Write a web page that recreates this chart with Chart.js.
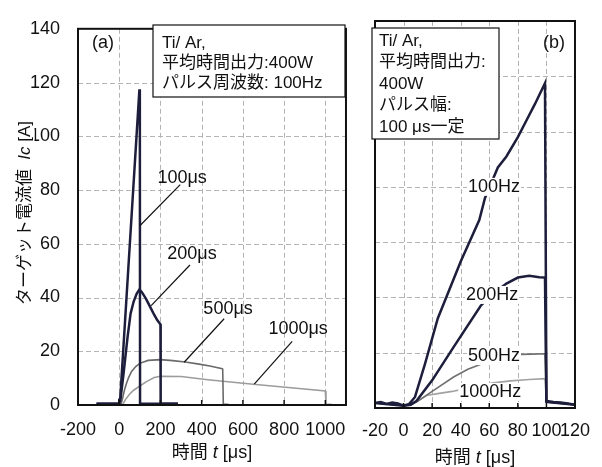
<!DOCTYPE html>
<html>
<head>
<meta charset="utf-8">
<script src="https://cdn.jsdelivr.net/npm/chart.js@4"></script>
<style>
html, body { margin: 0; padding: 0; background: #fff; }
#wrap { position: relative; width: 602px; height: 467px; overflow: hidden; }
#boxA { position: absolute; left: 0; top: 0; width: 360px; height: 467px; }
#boxB { position: absolute; left: 350px; top: 0; width: 252px; height: 467px; }
</style>
</head>
<body>
<div id="wrap">
  <div id="boxA"><canvas id="chartA"></canvas></div>
  <div id="boxB"><canvas id="chartB"></canvas></div>
</div>
<script>
// (a) pulse width series, 100 Hz: time [us] / current [A]
const tA100 = [-110, -1, 0, 5, 98, 100, 101, 285];
const iA100 = [0.5, 0.5, 2, 2.5, 117.5, 115, 0.5, 0.5];
const tA200 = [-110, -1, 0, 5, 20, 40, 55, 70, 85, 98, 110, 130, 150, 170, 185, 195, 200, 201, 285];
const iA200 = [0.5, 0.5, 1.5, 1.5, 11, 25, 34, 38.5, 41.5, 43, 42, 39.5, 36.5, 33.5, 31.5, 30.5, 30, 0.5, 0.5];
const tA500 = [-110, 8, 15, 25, 35, 46, 60, 80, 100, 140, 200, 260, 320, 380, 440, 500, 502, 505, 530];
const iA500 = [0.3, 0.3, 2, 5.5, 8, 10.3, 12.5, 14.3, 15.5, 16.6, 16.9, 16.5, 16, 15.3, 14.5, 13.5, 13.3, 0.3, 0.3];
const tA1000 = [-110, 18, 30, 50, 70, 95, 130, 170, 200, 300, 430, 650, 820, 1000, 1003, 1030];
const iA1000 = [0.3, 0.3, 2, 4, 5.5, 6.8, 8.6, 10.2, 10.7, 10.6, 9.4, 7.7, 6.5, 5.2, 0.3, 0.3];

// (b) frequency series, 100 us pulse
const tB100 = [-20, -16, -12, -8, -4, 0, 4, 8, 15, 24, 40, 53, 57, 66, 72, 80, 86, 92, 99, 100, 105, 110, 115, 120];
const iB100 = [1.8, 2.2, 1.5, 2, 1.6, 0.8, 1.5, 4, 16, 32.5, 53, 68, 76, 87, 91, 98, 104, 110, 117.5, 2.5, 2.2, 2, 1.6, 1.2];
const tB200 = [-20, 0, 5, 9, 20, 35, 54, 63, 72, 80, 88, 95, 99, 100, 120];
const iB200 = [1.8, 0.8, 1.2, 2.5, 10, 22, 37, 41.5, 45, 47.2, 47.8, 47.3, 47.2, 2.2, 1.2];
const tB500 = [-20, 0, 5, 10, 20, 35, 45, 55, 65, 75, 82, 90, 99, 100, 120];
const iB500 = [1.8, 0.8, 1.2, 2.5, 6, 11.2, 14, 16, 17.8, 18.9, 19.4, 19.5, 19.6, 2.2, 1.2];
const tB1000 = [-20, 0, 5, 10, 16, 25, 34, 45, 55, 63, 75, 88, 99, 100, 120];
const iB1000 = [1.8, 0.8, 1.2, 2.5, 4.5, 5.3, 6, 7.2, 8.3, 9.1, 9.8, 10.3, 10.6, 2.2, 1.2];

const xTicksA = [-200, 0, 200, 400, 600, 800, 1000];
const xTicksB = [-20, 0, 20, 40, 60, 80, 100, 120];
const yTicks = [0, 20, 40, 60, 80, 100, 120, 140];

const FONT = '"Liberation Sans", "Noto Sans CJK JP", sans-serif';
const INK = '#111';
const DARK = '#1d1d3c';
const GRID = '#b4b4b4';

Chart.defaults.font.family = FONT;
Chart.defaults.color = INK;

// [text, italic, white backing]
const xTitle = [['時間 ', false, false], ['t', true, false], [' [μs]', false, false]];
const yTitle = [['ターゲット電流値  ', false, false], ['Ic', true, false], [' [A]', false, true]];

function pts(xs, ys) {
    return xs.map((x, i) => ({ x: x, y: ys[i] }));
}

function series(label, xs, ys, color, width) {
    return { label: label, data: pts(xs, ys), borderColor: color, borderWidth: width, pointRadius: 0, tension: 0, fill: false };
}

function richText(ctx, parts, cx, cy, size, angle) {
    ctx.save();
    ctx.translate(cx, cy);
    ctx.rotate(angle);
    ctx.textAlign = 'left';
    ctx.textBaseline = 'middle';
    const fonts = parts.map(p => (p[1] ? 'italic ' : '') + size + 'px ' + FONT);
    let total = 0;
    const widths = parts.map((p, i) => {
        ctx.font = fonts[i];
        const w = ctx.measureText(p[0]).width;
        total += w;
        return w;
    });
    let x = -total / 2;
    parts.forEach((p, i) => {
        ctx.font = fonts[i];
        if (p[2]) {
            ctx.fillStyle = '#fff';
            ctx.fillRect(x, -size / 2 - 1, widths[i], size + 2);
        }
        ctx.fillStyle = INK;
        ctx.fillText(p[0], x, 0);
        x += widths[i];
    });
    ctx.restore();
}

const deco = {
    id: 'deco',
    beforeDatasetsDraw(chart, args, o) {
        const { ctx, chartArea: a } = chart;
        const X = v => chart.scales.x.getPixelForValue(v);
        const Y = v => chart.scales.y.getPixelForValue(v);
        ctx.save();
        ctx.strokeStyle = GRID;
        ctx.lineWidth = 1;
        ctx.setLineDash([5, 3]);
        o.ticks.forEach(v => {
            const px = Math.round(X(v)) + 0.5;
            if (px < a.left + 2 || px > a.right - 2) return;
            ctx.beginPath();
            ctx.moveTo(px, a.top);
            ctx.lineTo(px, a.bottom);
            ctx.stroke();
        });
        yTicks.forEach(v => {
            const py = Math.round(Y(v)) + 0.5;
            if (py < a.top + 2 || py > a.bottom - 2) return;
            ctx.beginPath();
            ctx.moveTo(a.left, py);
            ctx.lineTo(a.right, py);
            ctx.stroke();
        });
        ctx.restore();
    },
    afterDraw(chart, args, o) {
        const { ctx, chartArea: a } = chart;
        const X = v => chart.scales.x.getPixelForValue(v);
        const Y = v => chart.scales.y.getPixelForValue(v);
        ctx.save();
        ctx.strokeStyle = INK;

        // inward tick marks
        ctx.lineWidth = 1.5;
        o.ticks.forEach(v => {
            ctx.beginPath();
            ctx.moveTo(X(v), a.bottom);
            ctx.lineTo(X(v), a.bottom - 5);
            ctx.stroke();
        });

        // leader lines
        ctx.lineWidth = 1.2;
        o.leaders.forEach(l => {
            ctx.beginPath();
            ctx.moveTo(X(l[0]), Y(l[1]));
            ctx.lineTo(X(l[2]), Y(l[3]));
            ctx.stroke();
        });

        // curve labels
        ctx.font = '18px ' + FONT;
        ctx.textAlign = 'center';
        ctx.textBaseline = 'middle';
        o.labels.forEach(l => {
            const px = X(l.x), py = Y(l.y);
            if (o.labelBg) {
                const w = ctx.measureText(l.text).width;
                ctx.fillStyle = '#fff';
                ctx.fillRect(px - w / 2 - 1, py - 9, w + 2, 18);
            }
            ctx.fillStyle = INK;
            ctx.fillText(l.text, px, py);
        });

        // plot frame
        ctx.lineWidth = 2;
        ctx.strokeRect(a.left, a.top, a.right - a.left, a.bottom - a.top);

        // condition box
        const b = o.box;
        ctx.fillStyle = '#fff';
        ctx.fillRect(b.x, b.y, b.w, b.h);
        ctx.lineWidth = 1.2;
        ctx.strokeRect(b.x, b.y, b.w, b.h);
        ctx.fillStyle = INK;
        ctx.font = '17px ' + FONT;
        ctx.textAlign = 'left';
        b.lines.forEach((t, i) => ctx.fillText(t, b.x + b.pad, b.y0 + i * b.gap));

        // panel tag
        ctx.font = '18px ' + FONT;
        ctx.textAlign = 'center';
        ctx.fillText(o.tag.text, o.tag.x, o.tag.y);

        // axis titles
        richText(ctx, xTitle, (a.left + a.right) / 2, o.xTitleY, 18, 0);
        if (o.yTitle) richText(ctx, yTitle, o.yTitle.x, o.yTitle.y, 17, -Math.PI / 2);
        ctx.restore();
    }
};

function scales(xMin, xMax, xTicks, showY, yWidth, xHeight, yPad, xPad) {
    return {
        x: {
            type: 'linear', min: xMin, max: xMax,
            afterBuildTicks: s => { s.ticks = xTicks.map(v => ({ value: v })); },
            ticks: { font: { size: 18 }, color: INK, padding: xPad, maxRotation: 0, autoSkip: false,
                     callback: v => String(v) },
            grid: { display: false, drawTicks: false },
            border: { display: false },
            afterFit: s => { s.height = xHeight; }
        },
        y: {
            type: 'linear', min: 0, max: 140,
            afterBuildTicks: s => { s.ticks = yTicks.map(v => ({ value: v })); },
            ticks: { display: showY, font: { size: 18 }, color: INK, padding: yPad, autoSkip: false,
                     callback: v => String(v) },
            grid: { display: false, drawTicks: false },
            border: { display: false },
            afterFit: s => { s.width = yWidth; }
        }
    };
}

new Chart(document.getElementById('chartA'), {
    type: 'line',
    data: {
        datasets: [
            series('100μs', tA100, iA100, DARK, 2.5),
            series('200μs', tA200, iA200, DARK, 2.5),
            series('500μs', tA500, iA500, '#6a6a6a', 1.6),
            series('1000μs', tA1000, iA1000, '#9c9c9c', 1.6)
        ]
    },
    options: {
        responsive: true,
        maintainAspectRatio: false,
        animation: false,
        layout: { autoPadding: false, padding: { left: 0, top: 21, right: 8, bottom: 0 } },
        scales: scales(-200, 1100, xTicksA, true, 78, 62, 18, 14),
        plugins: {
            legend: { display: false },
            tooltip: { enabled: false },
            deco: {
                ticks: xTicksA,
                leaders: [[296, 82, 100, 66.7], [343, 52.1, 155, 37], [509, 32.1, 315, 15.9], [839, 23.7, 655, 7.8]],
                labels: [
                    { text: '100μs', x: 305, y: 84.6 },
                    { text: '200μs', x: 353, y: 56.1 },
                    { text: '500μs', x: 528, y: 35.7 },
                    { text: '1000μs', x: 868, y: 28.4 }
                ],
                labelBg: false,
                box: { x: 153, y: 25, w: 192, h: 72, pad: 9, y0: 43, gap: 20,
                       lines: ['Ti/ Ar,', '平均時間出力:400W', 'パルス周波数: 100Hz'] },
                tag: { text: '(a)', x: 103, y: 43 },
                xTitleY: 453,
                yTitle: { x: 25, y: 213 }
            }
        }
    },
    plugins: [deco]
});

new Chart(document.getElementById('chartB'), {
    type: 'line',
    data: {
        datasets: [
            series('100Hz', tB100, iB100, DARK, 2.5),
            series('200Hz', tB200, iB200, DARK, 2.5),
            series('500Hz', tB500, iB500, '#707070', 1.6),
            series('1000Hz', tB1000, iB1000, '#a2a2a2', 1.6)
        ]
    },
    options: {
        responsive: true,
        maintainAspectRatio: false,
        animation: false,
        layout: { autoPadding: false, padding: { left: 0, top: 21, right: 27, bottom: 0 } },
        scales: scales(-20, 120, xTicksB, false, 15, 59, 0, 12),
        plugins: {
            legend: { display: false },
            tooltip: { enabled: false },
            deco: {
                ticks: xTicksB,
                leaders: [],
                labels: [
                    { text: '100Hz', x: 63.3, y: 80 },
                    { text: '200Hz', x: 62, y: 40.9 },
                    { text: '500Hz', x: 63.3, y: 18.8 },
                    { text: '1000Hz', x: 60.7, y: 5.8 }
                ],
                labelBg: true,
                box: { x: 22, y: 28, w: 127, h: 111, pad: 7, y0: 41, gap: 21.5,
                       lines: ['Ti/ Ar,', '平均時間出力:', '400W', 'パルス幅:', '100 μs一定'] },
                tag: { text: '(b)', x: 204, y: 43 },
                xTitleY: 458
            }
        }
    },
    plugins: [deco]
});
</script>
</body>
</html>
